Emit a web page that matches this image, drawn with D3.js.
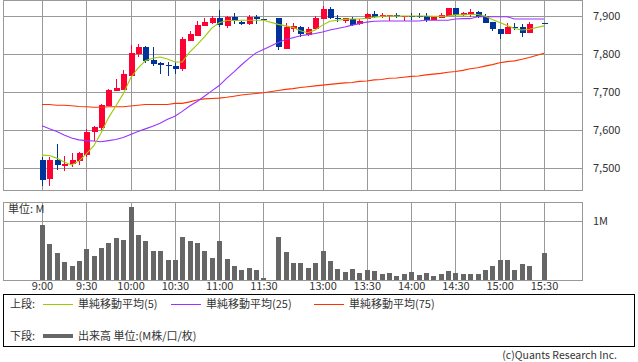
<!DOCTYPE html>
<html>
<head>
<meta charset="utf-8">
<script src="https://cdn.jsdelivr.net/npm/d3@7"></script>
<style>
  body { margin: 0; background: #fff; }
  svg text { font-family: "Noto Sans CJK JP", "Noto Sans", sans-serif; fill: #333; }
</style>
</head>
<body>
<div id="chart"></div>
<script>
// 5-minute bars, slot 0 = 9:00 ... slot 30 = 11:30, slot 31 lunch gap, slot 32 = 12:30 ... slot 68 = 15:30
const openP  = [7521,7470,7521,7505,7511,7519,7534,7596,7606,7663,7703,7705,7742,7800,7819,7784,7777,7770,7768,7761,7835,7848,7874,7881,7894,7874,7897,7885,7879,7898,7891,null,
  7894,7813,7866,7870,7850,7865,7893,7919,7894,7888,7891,7879,7893,7905,7898,7900,7903,7899,7900,7900,7900,7889,7894,7900,7921,7902,7902,7911,7900,7884,7865,7852,7870,7870,7856,null,7881];
const highP  = [7529,7528,7563,7532,7540,7543,7603,7610,7668,7708,7734,7758,7824,7826,7821,7819,7780,7779,7779,7844,7861,7888,7894,7900,7916,7901,7907,7888,7903,7903,7891,null,
  7896,7881,7882,7874,7870,7900,7927,7923,7903,7896,7898,7892,7907,7913,7909,7903,7909,7901,7909,7909,7909,7900,7909,7921,7921,7911,7918,7913,7905,7884,7866,7882,7881,7879,7885,null,7881];
const lowP   = [7453,7453,7495,7492,7503,7508,7530,7572,7600,7663,7703,7705,7742,7793,7776,7769,7747,7742,7747,7755,7835,7848,7874,7879,7872,7868,7879,7876,7876,7879,7889,null,
  7811,7813,7859,7846,7848,7865,7893,7891,7885,7881,7874,7876,7893,7894,7896,7888,7894,7888,7889,7894,7885,7889,7894,7900,7900,7900,7898,7894,7881,7861,7839,7852,7863,7844,7856,null,7880];
const closeP = [7468,7520,7508,7510,7521,7540,7595,7608,7666,7705,7711,7747,7803,7818,7782,7775,7770,7768,7761,7840,7852,7876,7884,7894,7876,7898,7888,7878,7898,7893,7889,null,
  7818,7870,7874,7852,7865,7894,7918,7894,7891,7894,7876,7888,7905,7897,7903,7903,7901,7901,7897,7897,7889,7898,7903,7921,7903,7907,7911,7898,7882,7865,7852,7872,7868,7856,7879,null,7880];

const ma5  = [7534,7533,7526,7516,7508,7518,7537,7558,7592,7632,7663,7695,7737,7763,7782,7789,7792,7787,7779,7779,7805,7824,7845,7868,7882,7888,7888,7889,7889,7889,7889,null,
  7878,7874,7870,7861,7856,7863,7876,7886,7889,7891,7892,7892,7894,7897,7899,7900,7900,7900,7900,7900,7900,7899,7899,7900,7903,7903,7904,7904,7900,7891,7883,7875,7867,7863,7865,null,7874];
const ma25 = [7611,7603,7596,7587,7579,7574,7572,7571,7569,7572,7575,7580,7588,7596,7603,7610,7618,7628,7636,7649,7663,7675,7689,7703,7717,7736,7753,7771,7788,7803,7812,null,
  7830,7838,7843,7848,7851,7854,7858,7863,7867,7871,7876,7880,7884,7886,7887,7887,7887,7887,7887,7887,7889,7889,7889,7889,7892,7893,7893,7898,7898,7898,7898,7898,7892,7892,7892,null,7892];
const ma75 = [7667,7667,7665,7665,7664,7662,7661,7660,7660,7661,7661,7661,7663,7665,7667,7667,7667,7667,7670,7670,7674,7679,7682,7683,7684,7686,7689,7692,7694,7696,7698,null,
  7704,7707,7709,7712,7714,7716,7718,7720,7722,7724,7725,7728,7729,7732,7733,7736,7737,7739,7741,7742,7745,7747,7749,7752,7754,7757,7761,7764,7768,7772,7777,7780,7782,7786,7791,null,7802];

// volume in millions
const volume = [0.93,0.61,0.46,0.31,0.24,0.32,0.53,0.41,0.54,0.63,0.71,0.68,1.24,0.76,0.66,0.49,0.49,0.34,0.34,0.73,0.66,0.63,0.49,0.38,0.66,0.36,0.24,0.17,0.20,0.17,0.03,null,
  0.73,0.47,0.29,0.29,0.20,0.29,0.49,0.32,0.19,0.14,0.19,0.12,0.17,0.15,0.10,0.12,0.07,0.10,0.14,0.08,0.12,0.07,0.10,0.15,0.12,0.10,0.10,0.10,0.17,0.24,0.34,0.34,0.17,0.27,0.23,null,0.46];

const tickSlots  = [0, 6, 12, 18, 24, 30, 38, 44, 50, 56, 62, 68];
const tickLabels = ["9:00","9:30","10:00","10:30","11:00","11:30","13:00","13:30","14:00","14:30","15:00","15:30"];
const priceTicks = [7500, 7600, 7700, 7800, 7900];

const legendItems = [
    {label: "単純移動平均(5)",  color: "#99cc00"},
    {label: "単純移動平均(25)", color: "#9933ff"},
    {label: "単純移動平均(75)", color: "#ff3300"}
];

const upColor = "#ff0033", downColor = "#003399", gridColor = "#999";

const svg = d3.select("#chart").append("svg")
    .attr("width", 638)
    .attr("height", 362);

// scales
const x = d3.scaleLinear().domain([0, 68]).range([42, 544]);
const y = d3.scaleLinear().domain([7500, 7900]).range([168, 16]);
const yv = d3.scaleLinear().domain([0, 1]).range([280, 221]);

const left = 3.5, right = 582.5;

// ---- price panel ----
const main = svg.append("g");

main.selectAll(".hgrid").data(priceTicks).enter().append("line")
    .attr("x1", left).attr("x2", right)
    .attr("y1", d => Math.round(y(d)) + 0.5).attr("y2", d => Math.round(y(d)) + 0.5)
    .attr("stroke", gridColor);

main.selectAll(".vgrid").data(tickSlots).enter().append("line")
    .attr("x1", d => Math.round(x(d)) + 0.5).attr("x2", d => Math.round(x(d)) + 0.5)
    .attr("y1", 0.5).attr("y2", 190.5)
    .attr("stroke", gridColor);

main.append("rect")
    .attr("x", left).attr("y", 0.5)
    .attr("width", right - left).attr("height", 190)
    .attr("fill", "none").attr("stroke", gridColor);

// y axis on the right
const yAxis = d3.axisRight(y).tickValues(priceTicks).tickSize(0).tickPadding(0)
    .tickFormat(d3.format(","));
main.append("g")
    .attr("transform", "translate(593,0)")
    .call(yAxis)
    .call(g => g.select(".domain").remove())
    .selectAll("text").attr("font-size", 11).attr("fill", "#333");

// candles
const bars = d3.range(69).filter(i => openP[i] !== null);
const candle = main.append("g").selectAll("g").data(bars).enter().append("g")
    .attr("shape-rendering", "crispEdges");

candle.append("line")
    .attr("x1", i => Math.round(x(i)) + 0.5).attr("x2", i => Math.round(x(i)) + 0.5)
    .attr("y1", i => y(highP[i])).attr("y2", i => y(lowP[i]))
    .attr("stroke", i => closeP[i] >= openP[i] ? upColor : downColor);

candle.append("rect")
    .attr("x", i => Math.round(x(i)) - 2)
    .attr("width", 6)
    .attr("y", i => y(Math.max(openP[i], closeP[i])))
    .attr("height", i => Math.max(1, Math.abs(y(openP[i]) - y(closeP[i]))))
    .attr("fill", i => closeP[i] >= openP[i] ? upColor : downColor);

// moving averages
[[ma75, legendItems[2].color], [ma25, legendItems[1].color], [ma5, legendItems[0].color]].forEach(([series, color]) => {
    const pts = d3.range(69).filter(i => series[i] !== null);
    main.append("path")
        .datum(pts)
        .attr("fill", "none")
        .attr("stroke", color)
        .attr("stroke-width", 1.1)
        .attr("d", d3.line().x(i => x(i)).y(i => y(series[i])));
});

// ---- volume panel ----
const vol = svg.append("g");

vol.append("line")
    .attr("x1", left).attr("x2", right)
    .attr("y1", Math.round(yv(1)) + 0.5).attr("y2", Math.round(yv(1)) + 0.5)
    .attr("stroke", gridColor);

vol.selectAll(".vgrid").data(tickSlots).enter().append("line")
    .attr("x1", d => Math.round(x(d)) + 0.5).attr("x2", d => Math.round(x(d)) + 0.5)
    .attr("y1", 202.5).attr("y2", 280.5)
    .attr("stroke", gridColor);

vol.selectAll(".vbar").data(d3.range(69).filter(i => volume[i] !== null)).enter().append("rect")
    .attr("shape-rendering", "crispEdges")
    .attr("x", i => Math.round(x(i)) - 2)
    .attr("width", 5)
    .attr("y", i => yv(volume[i]))
    .attr("height", i => yv(0) - yv(volume[i]))
    .attr("fill", "#666");

vol.append("rect")
    .attr("x", left).attr("y", 202.5)
    .attr("width", right - left).attr("height", 78)
    .attr("fill", "none").attr("stroke", gridColor);

vol.append("text").attr("x", 8).attr("y", 213).attr("font-size", 11).text("単位: M");
vol.append("text").attr("x", 593).attr("y", yv(1) + 4).attr("font-size", 11).text("1M");

// x axis labels
const xAxis = d3.axisBottom(x).tickValues(tickSlots).tickSize(0).tickPadding(0)
    .tickFormat((d, i) => tickLabels[i]);
svg.append("g")
    .attr("transform", "translate(0,282)")
    .call(xAxis)
    .call(g => g.select(".domain").remove())
    .selectAll("text").attr("font-size", 11).attr("fill", "#333");

// ---- legend ----
const leg = svg.append("g");
leg.append("rect")
    .attr("x", 3.5).attr("y", 294.5).attr("width", 631).attr("height", 52)
    .attr("fill", "none").attr("stroke", "#000");

leg.append("text").attr("x", 10).attr("y", 308).attr("font-size", 11).text("上段:");
const legX = [43, 171, 314];
legendItems.forEach((d, i) => {
    leg.append("line")
        .attr("x1", legX[i]).attr("x2", legX[i] + 30)
        .attr("y1", 304.5).attr("y2", 304.5)
        .attr("stroke", d.color);
    leg.append("text").attr("x", legX[i] + 35).attr("y", 308).attr("font-size", 11).text(d.label);
});

leg.append("text").attr("x", 10).attr("y", 340).attr("font-size", 11).text("下段:");
leg.append("line")
    .attr("x1", 43).attr("x2", 73).attr("y1", 336).attr("y2", 336)
    .attr("stroke", "#666").attr("stroke-width", 4);
leg.append("text").attr("x", 78).attr("y", 340).attr("font-size", 11).text("出来高 単位:(M株/口/枚)");

svg.append("text")
    .attr("x", 617).attr("y", 359)
    .attr("text-anchor", "end")
    .attr("font-size", 10.5)
    .text("(c)Quants Research Inc.");
</script>
</body>
</html>
